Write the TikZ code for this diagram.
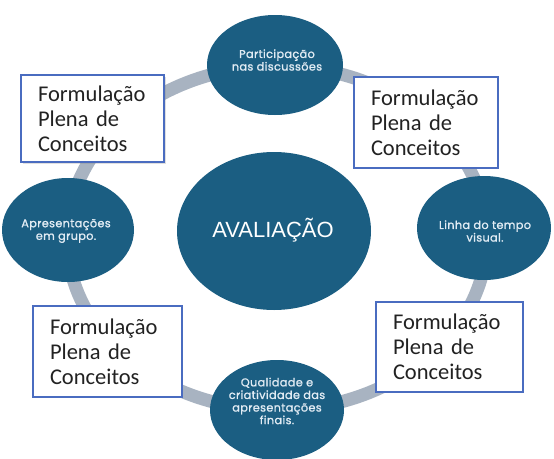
\documentclass[tikz,border=0pt]{standalone}
\usepackage{fontspec}
\setmainfont{Liberation Sans}
\newfontfamily\boxfont{Carlito}
\newfontfamily\circfont[FakeBold=1.2,LetterSpace=3]{Poppins}
\usetikzlibrary{shapes.geometric,shadows}
\definecolor{circblue}{HTML}{1B5E82}
\definecolor{ringgray}{HTML}{A8B3C1}
\definecolor{boxblue}{HTML}{4A6CC0}
\definecolor{circtext}{HTML}{E2ECF4}
\definecolor{boxtext}{HTML}{222222}
\tikzset{
  circ/.style={ellipse, fill=circblue, draw=none, inner sep=0pt},
  ctext/.style={text=circtext, align=center, inner sep=0pt,
    font=\circfont\fontsize{11.3}{12.6}\selectfont},
  maintext/.style={text=white, inner sep=0pt, font=\fontsize{22}{26}\selectfont},
  fbox/.style={draw=boxblue, line width=1.8pt, fill=white, rectangle, text=boxtext,
    inner xsep=17pt, inner ysep=0pt, align=left,
    font=\boxfont\fontsize{22.5}{25}\selectfont},
  ring/.style={draw=ringgray, line width=13pt}
}
\begin{document}
\begin{tikzpicture}[x=1pt,y=-1pt]
\useasboundingbox (0,0) rectangle (554,458);
\fill[white] (0,0) rectangle (554,458);
% ring
\coordinate (ringc) at (277,238);
\draw[ring] (ringc) ellipse [x radius=210pt, y radius=172pt];
% circles
\node[circ, minimum width=194pt, minimum height=158pt] (mainc) at (274,231) {};
\node[maintext] (maint) at (273,230) {AVALIAÇÃO};
\node[circ, minimum width=136pt, minimum height=100pt] (topc) at (275,65) {};
\node[ctext] (topt) at (277,60) {Participação\\nas discussões};
\node[circ, minimum width=132pt, minimum height=104pt] (leftc) at (68,230) {};
\node[ctext] (leftt) at (66,231) {Apresentações\\em grupo.};
\node[circ, minimum width=134pt, minimum height=104pt] (rightc) at (484,228) {};
\node[ctext] (rightt) at (485,231) {Linha do tempo\\visual.};
\node[circ, minimum width=134pt, minimum height=100pt] (botc) at (277,410) {};
\node[ctext] (bott) at (277,401) {Qualidade e\\criatividade das\\apresentações\\finais.};
% boxes
\node[fbox, text width=109pt, minimum width=143pt, minimum height=87pt,
  drop shadow={opacity=0.25, shadow xshift=2pt, shadow yshift=-2pt}] (b1) at (92.5,118.5)
  {Formulação\\Plena de\\Conceitos};
\node[fbox, text width=110pt, minimum width=144pt, minimum height=91pt] (b2) at (426,122.5)
  {Formulação\\Plena de\\Conceitos};
\node[fbox, text width=115pt, minimum width=149pt, minimum height=91pt] (b3) at (107.5,351.5)
  {Formulação\\Plena de\\Conceitos};
\node[fbox, text width=113pt, minimum width=147pt, minimum height=90pt] (b4) at (449.5,347)
  {Formulação\\Plena de\\Conceitos};
\end{tikzpicture}
\end{document}
